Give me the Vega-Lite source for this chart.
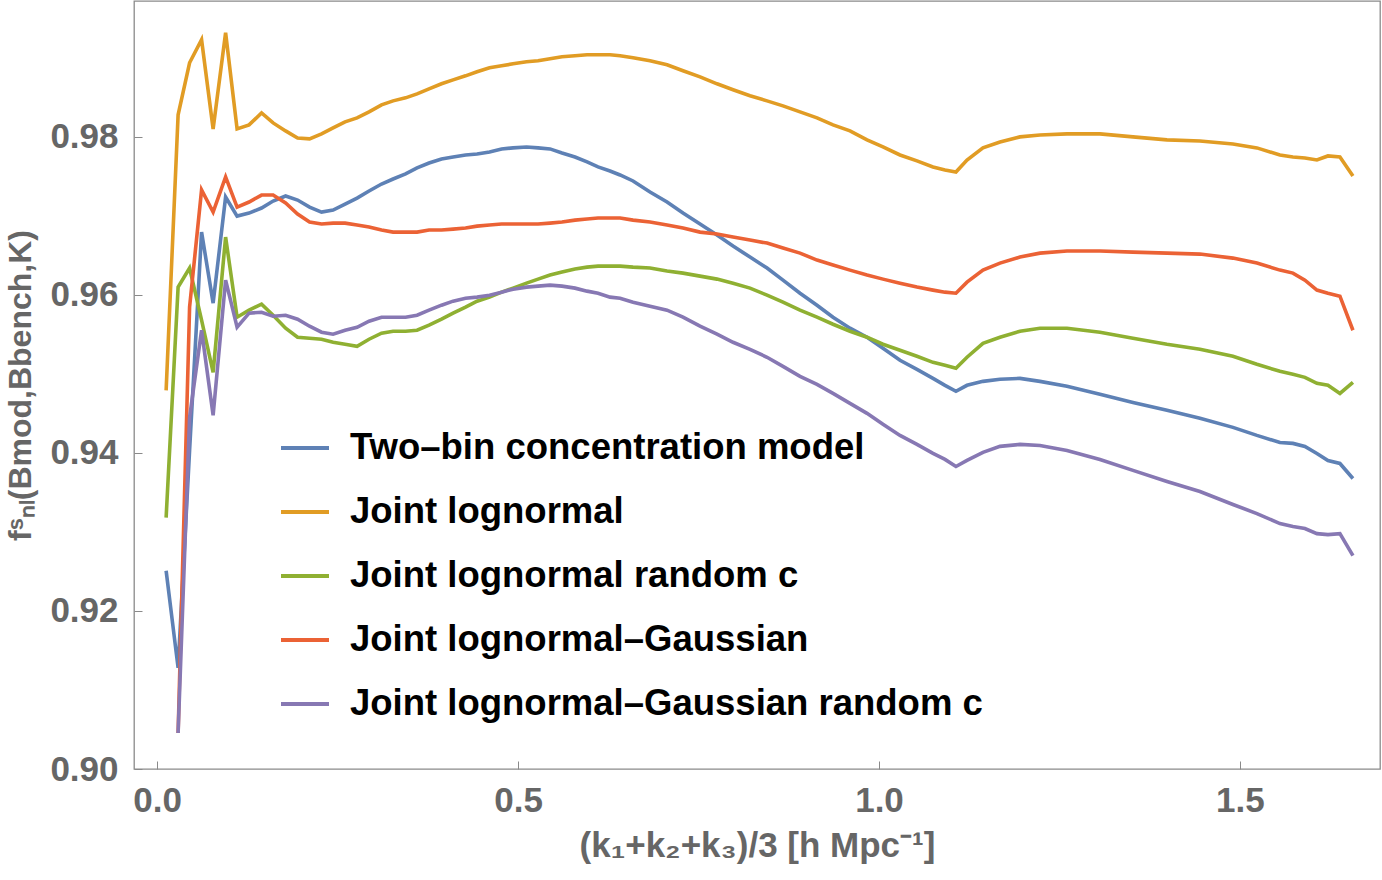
{
  "$schema": "https://vega.github.io/schema/vega-lite/v6.json",
  "width": 1246,
  "height": 768,
  "autosize": {"type": "none"},
  "padding": {"left": 134, "top": 1, "right": 2, "bottom": 111},
  "background": "white",
  "config": {
    "view": {"stroke": "#8a8a8a", "strokeWidth": 1.3},
    "axis": {
      "domain": false,
      "grid": false,
      "tickSize": -8,
      "tickColor": "#8a8a8a",
      "tickWidth": 1,
      "labelFont": "Liberation Sans",
      "labelFontWeight": "bold",
      "labelFontSize": 35,
      "labelColor": "#666666",
      "titleFont": "Liberation Sans",
      "titleFontWeight": "bold",
      "titleColor": "#666666"
    }
  },
  "data": {
    "values": [
      {"k": 0.0125, "a": 0.92510, "b": 0.94792, "c": 0.93182, "d": null, "e": null},
      {"k": 0.0291, "a": 0.91280, "b": 0.98279, "c": 0.96099, "d": 0.90456, "e": 0.90456},
      {"k": 0.0450, "a": 0.94032, "b": 0.98938, "c": 0.96340, "d": 0.95845, "e": 0.94451},
      {"k": 0.0616, "a": 0.96795, "b": 0.99230, "c": 0.95680, "d": 0.97328, "e": 0.95553},
      {"k": 0.0776, "a": 0.95896, "b": 0.98101, "c": 0.95020, "d": 0.97049, "e": 0.94476},
      {"k": 0.0949, "a": 0.97239, "b": 0.99318, "c": 0.96732, "d": 0.97493, "e": 0.96187},
      {"k": 0.1108, "a": 0.96998, "b": 0.98101, "c": 0.95718, "d": 0.97112, "e": 0.95591},
      {"k": 0.1274, "a": 0.97036, "b": 0.98152, "c": 0.95807, "d": 0.97176, "e": 0.95769},
      {"k": 0.1447, "a": 0.97100, "b": 0.98304, "c": 0.95883, "d": 0.97264, "e": 0.95781},
      {"k": 0.1607, "a": 0.97188, "b": 0.98177, "c": 0.95743, "d": 0.97264, "e": 0.95731},
      {"k": 0.1780, "a": 0.97252, "b": 0.98076, "c": 0.95579, "d": 0.97163, "e": 0.95743},
      {"k": 0.1946, "a": 0.97201, "b": 0.97987, "c": 0.95465, "d": 0.97024, "e": 0.95693},
      {"k": 0.2112, "a": 0.97112, "b": 0.97975, "c": 0.95452, "d": 0.96922, "e": 0.95604},
      {"k": 0.2278, "a": 0.97049, "b": 0.98038, "c": 0.95439, "d": 0.96897, "e": 0.95528},
      {"k": 0.2438, "a": 0.97074, "b": 0.98114, "c": 0.95401, "d": 0.96909, "e": 0.95503},
      {"k": 0.2604, "a": 0.97150, "b": 0.98190, "c": 0.95376, "d": 0.96909, "e": 0.95553},
      {"k": 0.2770, "a": 0.97226, "b": 0.98241, "c": 0.95350, "d": 0.96884, "e": 0.95591},
      {"k": 0.2936, "a": 0.97315, "b": 0.98317, "c": 0.95439, "d": 0.96859, "e": 0.95667},
      {"k": 0.3109, "a": 0.97404, "b": 0.98406, "c": 0.95515, "d": 0.96821, "e": 0.95718},
      {"k": 0.3269, "a": 0.97467, "b": 0.98456, "c": 0.95541, "d": 0.96795, "e": 0.95718},
      {"k": 0.3442, "a": 0.97531, "b": 0.98494, "c": 0.95541, "d": 0.96795, "e": 0.95718},
      {"k": 0.3601, "a": 0.97607, "b": 0.98545, "c": 0.95553, "d": 0.96795, "e": 0.95743},
      {"k": 0.3767, "a": 0.97670, "b": 0.98608, "c": 0.95617, "d": 0.96821, "e": 0.95807},
      {"k": 0.3940, "a": 0.97721, "b": 0.98672, "c": 0.95693, "d": 0.96821, "e": 0.95870},
      {"k": 0.4100, "a": 0.97746, "b": 0.98722, "c": 0.95769, "d": 0.96833, "e": 0.95921},
      {"k": 0.4273, "a": 0.97771, "b": 0.98773, "c": 0.95845, "d": 0.96846, "e": 0.95959},
      {"k": 0.4432, "a": 0.97784, "b": 0.98824, "c": 0.95921, "d": 0.96871, "e": 0.95972},
      {"k": 0.4605, "a": 0.97810, "b": 0.98875, "c": 0.95972, "d": 0.96884, "e": 0.95997},
      {"k": 0.4772, "a": 0.97848, "b": 0.98900, "c": 0.96035, "d": 0.96897, "e": 0.96035},
      {"k": 0.4931, "a": 0.97861, "b": 0.98925, "c": 0.96086, "d": 0.96897, "e": 0.96073},
      {"k": 0.5118, "a": 0.97873, "b": 0.98951, "c": 0.96149, "d": 0.96897, "e": 0.96099},
      {"k": 0.5277, "a": 0.97861, "b": 0.98963, "c": 0.96200, "d": 0.96897, "e": 0.96111},
      {"k": 0.5443, "a": 0.97848, "b": 0.98989, "c": 0.96251, "d": 0.96909, "e": 0.96124},
      {"k": 0.5609, "a": 0.97797, "b": 0.99014, "c": 0.96289, "d": 0.96922, "e": 0.96111},
      {"k": 0.5789, "a": 0.97746, "b": 0.99027, "c": 0.96327, "d": 0.96947, "e": 0.96086},
      {"k": 0.5956, "a": 0.97683, "b": 0.99039, "c": 0.96352, "d": 0.96960, "e": 0.96048},
      {"k": 0.6108, "a": 0.97620, "b": 0.99039, "c": 0.96365, "d": 0.96973, "e": 0.96022},
      {"k": 0.6274, "a": 0.97569, "b": 0.99039, "c": 0.96365, "d": 0.96973, "e": 0.95972},
      {"k": 0.6413, "a": 0.97518, "b": 0.99027, "c": 0.96365, "d": 0.96973, "e": 0.95959},
      {"k": 0.6593, "a": 0.97442, "b": 0.99001, "c": 0.96352, "d": 0.96947, "e": 0.95908},
      {"k": 0.6828, "a": 0.97302, "b": 0.98963, "c": 0.96340, "d": 0.96922, "e": 0.95857},
      {"k": 0.7064, "a": 0.97176, "b": 0.98913, "c": 0.96302, "d": 0.96884, "e": 0.95807},
      {"k": 0.7285, "a": 0.97036, "b": 0.98837, "c": 0.96276, "d": 0.96846, "e": 0.95718},
      {"k": 0.7521, "a": 0.96897, "b": 0.98760, "c": 0.96238, "d": 0.96795, "e": 0.95604},
      {"k": 0.7756, "a": 0.96757, "b": 0.98672, "c": 0.96200, "d": 0.96770, "e": 0.95503},
      {"k": 0.7978, "a": 0.96618, "b": 0.98596, "c": 0.96149, "d": 0.96732, "e": 0.95401},
      {"k": 0.8213, "a": 0.96479, "b": 0.98520, "c": 0.96086, "d": 0.96694, "e": 0.95312},
      {"k": 0.8449, "a": 0.96340, "b": 0.98456, "c": 0.95997, "d": 0.96656, "e": 0.95211},
      {"k": 0.8670, "a": 0.96187, "b": 0.98393, "c": 0.95908, "d": 0.96593, "e": 0.95096},
      {"k": 0.8906, "a": 0.96022, "b": 0.98317, "c": 0.95807, "d": 0.96529, "e": 0.94970},
      {"k": 0.9141, "a": 0.95870, "b": 0.98241, "c": 0.95718, "d": 0.96441, "e": 0.94868},
      {"k": 0.9363, "a": 0.95718, "b": 0.98152, "c": 0.95629, "d": 0.96378, "e": 0.94754},
      {"k": 0.9598, "a": 0.95579, "b": 0.98076, "c": 0.95541, "d": 0.96314, "e": 0.94628},
      {"k": 0.9834, "a": 0.95465, "b": 0.97962, "c": 0.95465, "d": 0.96251, "e": 0.94501},
      {"k": 1.0055, "a": 0.95325, "b": 0.97873, "c": 0.95376, "d": 0.96200, "e": 0.94362},
      {"k": 1.0291, "a": 0.95173, "b": 0.97771, "c": 0.95299, "d": 0.96149, "e": 0.94222},
      {"k": 1.0526, "a": 0.95058, "b": 0.97696, "c": 0.95223, "d": 0.96099, "e": 0.94108},
      {"k": 1.0748, "a": 0.94944, "b": 0.97620, "c": 0.95147, "d": 0.96061, "e": 0.93994},
      {"k": 1.0914, "a": 0.94856, "b": 0.97581, "c": 0.95109, "d": 0.96035, "e": 0.93918},
      {"k": 1.1066, "a": 0.94780, "b": 0.97556, "c": 0.95071, "d": 0.96022, "e": 0.93829},
      {"k": 1.1219, "a": 0.94856, "b": 0.97708, "c": 0.95211, "d": 0.96162, "e": 0.93905},
      {"k": 1.1440, "a": 0.94906, "b": 0.97861, "c": 0.95388, "d": 0.96314, "e": 0.94007},
      {"k": 1.1676, "a": 0.94932, "b": 0.97936, "c": 0.95465, "d": 0.96403, "e": 0.94083},
      {"k": 1.1953, "a": 0.94944, "b": 0.98000, "c": 0.95541, "d": 0.96479, "e": 0.94108},
      {"k": 1.2230, "a": 0.94906, "b": 0.98025, "c": 0.95579, "d": 0.96529, "e": 0.94095},
      {"k": 1.2604, "a": 0.94843, "b": 0.98038, "c": 0.95579, "d": 0.96555, "e": 0.94032},
      {"k": 1.3061, "a": 0.94742, "b": 0.98038, "c": 0.95528, "d": 0.96555, "e": 0.93918},
      {"k": 1.3518, "a": 0.94640, "b": 0.98000, "c": 0.95452, "d": 0.96542, "e": 0.93779},
      {"k": 1.3989, "a": 0.94539, "b": 0.97962, "c": 0.95376, "d": 0.96529, "e": 0.93639},
      {"k": 1.4446, "a": 0.94438, "b": 0.97949, "c": 0.95312, "d": 0.96517, "e": 0.93512},
      {"k": 1.4903, "a": 0.94324, "b": 0.97911, "c": 0.95223, "d": 0.96466, "e": 0.93347},
      {"k": 1.5235, "a": 0.94222, "b": 0.97861, "c": 0.95122, "d": 0.96403, "e": 0.93233},
      {"k": 1.5554, "a": 0.94133, "b": 0.97771, "c": 0.95033, "d": 0.96314, "e": 0.93106},
      {"k": 1.5734, "a": 0.94121, "b": 0.97746, "c": 0.94995, "d": 0.96276, "e": 0.93068},
      {"k": 1.5900, "a": 0.94083, "b": 0.97734, "c": 0.94957, "d": 0.96187, "e": 0.93043},
      {"k": 1.6066, "a": 0.93994, "b": 0.97708, "c": 0.94881, "d": 0.96061, "e": 0.92979},
      {"k": 1.6219, "a": 0.93905, "b": 0.97759, "c": 0.94856, "d": 0.96022, "e": 0.92967},
      {"k": 1.6385, "a": 0.93867, "b": 0.97746, "c": 0.94754, "d": 0.95984, "e": 0.92979},
      {"k": 1.6565, "a": 0.93677, "b": 0.97505, "c": 0.94894, "d": 0.95553, "e": 0.92700}
    ]
  },
  "transform": [
    {"fold": ["a", "b", "c", "d", "e"], "as": ["series", "f"]},
    {"filter": "datum.f != null"}
  ],
  "mark": {"type": "line", "strokeWidth": 3.6, "clip": true},
  "encoding": {
    "x": {
      "field": "k",
      "type": "quantitative",
      "scale": {"domain": [-0.032, 1.694], "nice": false, "zero": false},
      "axis": {
        "values": [0, 0.5, 1, 1.5],
        "format": ".1f",
        "labelPadding": 22,
        "title": "(k₁+k₂+k₃)/3 [h Mpc⁻¹]",
        "titleFontSize": 35,
        "titlePadding": 10
      }
    },
    "y": {
      "field": "f",
      "type": "quantitative",
      "scale": {"domain": [0.9, 0.9972], "nice": false, "zero": false},
      "axis": {
        "values": [0.9, 0.92, 0.94, 0.96, 0.98],
        "format": ".2f",
        "labelPadding": 24,
        "title": "fˢₙₗ(Bmod,Bbench,K)",
        "titleFontSize": 32,
        "titlePadding": 12
      }
    },
    "color": {
      "field": "series",
      "type": "nominal",
      "scale": {
        "domain": ["a", "b", "c", "d", "e"],
        "range": ["#5E81B5", "#E19C24", "#8FB032", "#EB6235", "#8778B3"]
      },
      "legend": {
        "orient": "none",
        "legendX": 145,
        "legendY": 421,
        "title": null,
        "symbolType": "stroke",
        "symbolSize": 2304,
        "symbolStrokeWidth": 4,
        "labelFont": "Liberation Sans",
        "labelFontWeight": "bold",
        "labelFontSize": 36.5,
        "labelColor": "black",
        "labelLimit": 1000,
        "labelOffset": 19,
        "rowPadding": 19,
        "labelExpr": "{'a': 'Two–bin concentration model', 'b': 'Joint lognormal', 'c': 'Joint lognormal random c', 'd': 'Joint lognormal–Gaussian', 'e': 'Joint lognormal–Gaussian random c'}[datum.value]"
      }
    }
  }
}
